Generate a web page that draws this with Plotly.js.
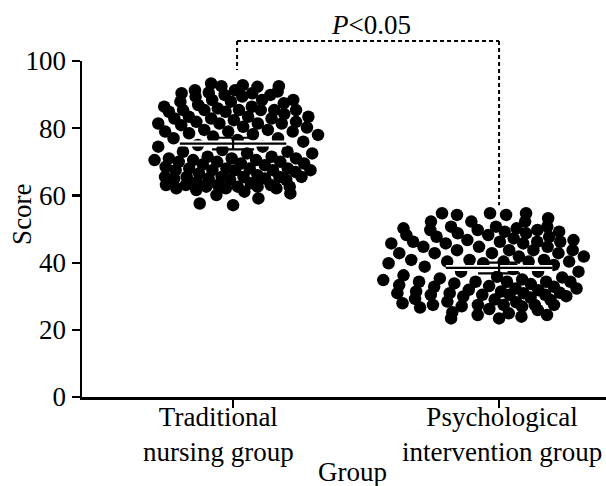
<!DOCTYPE html>
<html>
<head>
<meta charset="utf-8">
<script src="https://cdn.plot.ly/plotly-3.0.1.min.js"></script>
<style>html,body{margin:0;padding:0;background:#fff;}#chart{width:606px;height:486px;}</style>
</head>
<body>
<div id="chart"></div>
<script>
// ---- Data ----
const categories = ['Traditional nursing group', 'Psychological intervention group'];
const tickLabels = ['Traditional<br>nursing group', 'Psychological<br>intervention group'];
const yTicks = [0, 20, 40, 60, 80, 100];
const axisTitleX = 'Group';
const axisTitleY = 'Score';
const significanceText = '<i>P</i>&lt;0.05';

const traditionalScores = [
  93.3, 92.8, 92.3, 92.5, 92.5, 91.3, 91.3, 90.9, 90.4, 90.6, 89.9, 89.4, 89.4, 89.9, 90.4,
  88.4, 87.9, 87.9, 88.4, 88.4, 87.4, 86.4, 85.4, 85.4, 85.9, 86.4, 85.4, 85.4, 84.9, 85.4,
  85.4, 84.9, 83.4, 82.9, 83.4, 82.9, 83.4, 82.9, 82.4, 81.4, 81.4, 81.9, 80.9, 81.9, 81.4,
  81.4, 80.4, 79.0, 79.5, 79.0, 79.5, 78.5, 78.0, 79.0, 77.5, 76.0, 77.0, 76.5, 77.0, 75.0,
  74.5, 73.0, 72.5, 74.5, 73.5, 73.0, 72.5, 70.5, 69.5, 69.5, 70.0, 70.5, 71.0, 71.0, 70.0,
  71.5, 71.5, 70.5, 71.0, 70.0, 67.0, 68.0, 69.0, 67.5, 67.5, 67.5, 68.0, 67.5, 67.5, 68.0,
  68.5, 68.0, 65.0, 65.5, 65.5, 65.0, 65.5, 66.0, 65.0, 65.5, 65.5, 65.5, 64.6, 64.6, 63.1,
  62.1, 62.6, 62.1, 61.1, 60.1, 63.1, 62.6, 62.6, 62.1, 63.6, 63.1, 63.1, 62.6, 60.6, 59.1,
  57.1, 57.6, 84.2, 80.2, 78.2, 69.2, 66.5, 64.0, 86.9, 61.6
];

const psychologicalScores = [
  54.7, 54.7, 54.7, 54.2, 54.2, 53.2, 52.2, 52.2, 52.2, 50.7, 50.2, 50.7, 49.7, 49.2, 48.7,
  49.2, 50.7, 50.2, 49.7, 49.7, 47.7, 48.2, 48.7, 46.7, 47.2, 48.2, 47.7, 46.2, 46.2,
  45.7, 46.2, 46.7, 45.7, 46.2, 44.7, 43.7, 43.7, 44.7, 43.7, 45.7, 43.7, 44.7, 42.8,
  42.8, 42.8, 42.8, 41.8, 40.3, 39.3, 39.8, 39.8, 40.3, 40.8, 41.8, 40.8, 40.8, 40.3, 40.3,
  38.8, 37.3, 35.8, 37.3, 37.3, 35.3, 33.8, 34.8, 34.3, 32.8, 34.3, 32.8, 33.3, 32.3, 34.3,
  32.3, 34.3, 34.3, 30.9, 31.9, 30.4, 30.9, 30.4, 30.9, 29.9, 30.4, 31.4, 30.4, 31.4, 27.4,
  27.4, 27.4, 25.9, 28.4, 27.4, 26.9, 28.9, 27.9, 27.4, 24.4, 23.4, 23.9, 23.4, 24.9, 24.4,
  36.2, 38.1, 29.2, 26.2, 35.0, 31.0, 25.2,
  33.0, 29.6, 26.6, 31.8, 28.2, 35.6, 27.0, 30.0, 33.6, 29.0
];

// ---- Layout constants ----
const W = 606, H = 486;
const M = {l: 82, r: 0, t: 61, b: 89};
const xRange = [-0.568, 1.402];
const yRange = [0, 100];
const FONT = 'Liberation Serif, Times New Roman, serif';
const FS = 27;
const MARKER = 12.5;
// horizontal spread of each cloud (px, left / right of the category centre)
const spreadLeft = [84, 124];
const spreadRight = [86, 86];

const pxPerX = (W - M.l - M.r) / (xRange[1] - xRange[0]);
const pxPerY = (H - M.t - M.b) / (yRange[1] - yRange[0]);

// Deterministic elliptical scatter layout (golden-ratio sequence over value rank)
function cloudOffsets(values, wl, wr) {
  const lo = Math.min(...values), hi = Math.max(...values);
  const mid = (lo + hi) / 2, R = (hi - lo) / 2 + 2.5;
  const order = values.map((v, i) => i).sort((a, b) => values[a] - values[b]);
  const offs = new Array(values.length).fill(0);
  const phi = 0.6180339887;
  order.forEach((idx, k) => {
    const u = (0.5 + k * phi) % 1;
    const t = (values[idx] - mid) / R;
    const shape = Math.sqrt(Math.max(0, 1 - t * t));
    const px = u < 0.5 ? -(1 - 2 * u) * wl * shape : (2 * u - 1) * wr * shape;
    offs[idx] = px / pxPerX;
  });
  return offs;
}

function stats(arr) {
  const n = arr.length;
  const mean = arr.reduce((s, v) => s + v, 0) / n;
  const sd = Math.sqrt(arr.reduce((s, v) => s + (v - mean) * (v - mean), 0) / (n - 1));
  return {mean: mean, ci: 1.96 * sd / Math.sqrt(n)};
}

const groups = [traditionalScores, psychologicalScores];
const traces = [];
const meanX = [], meanY = [], meanLineX = [], meanLineY = [], errs = [];
groups.forEach((vals, gi) => {
  const offs = cloudOffsets(vals, spreadLeft[gi], spreadRight[gi]);
  traces.push({
    type: 'scatter', mode: 'markers', name: categories[gi],
    x: vals.map((v, i) => gi + offs[i]), y: vals,
    marker: {color: '#000', size: MARKER, line: {width: 0}},
    hoverinfo: 'y', cliponaxis: false
  });
  const s = stats(vals);
  meanX.push(gi); meanY.push(s.mean); errs.push(s.ci);
  meanLineX.push(gi - 0.2, gi + 0.2, null);
  meanLineY.push(s.mean, s.mean, null);
});

traces.push({
  type: 'scatter', mode: 'lines', x: meanLineX, y: meanLineY,
  line: {color: '#fff', width: 6}, hoverinfo: 'skip'
});
traces.push({
  type: 'scatter', mode: 'lines', x: meanLineX, y: meanLineY,
  line: {color: '#000', width: 2.2}, hoverinfo: 'skip'
});
traces.push({
  type: 'scatter', mode: 'markers', x: meanX, y: meanY,
  marker: {size: 1, color: 'rgba(0,0,0,0)'},
  error_y: {type: 'data', array: errs, visible: true, color: '#000', thickness: 2.2, width: 21},
  hoverinfo: 'skip'
});

const dashLine = {color: '#000', width: 2, dash: '4px,3px'};
const txt = {family: FONT, size: FS, color: '#000'};
const layout = {
  width: W, height: H,
  margin: {l: M.l, r: M.r, t: M.t, b: M.b, pad: 0},
  paper_bgcolor: '#fff', plot_bgcolor: '#fff',
  showlegend: false,
  font: txt,
  xaxis: {
    range: xRange, tickvals: [0, 1], ticktext: ['', ''],
    ticks: 'outside', ticklen: 8, tickwidth: 2.2, tickcolor: '#000',
    showline: true, linewidth: 2.5, linecolor: '#000',
    showgrid: false, zeroline: false, fixedrange: true,
    tickfont: txt
  },
  yaxis: {
    range: yRange, tickvals: yTicks, ticktext: yTicks.map(String),
    ticks: 'outside', ticklen: 8, tickwidth: 2.2, tickcolor: '#000',
    showline: true, linewidth: 2.5, linecolor: '#000',
    showgrid: false, zeroline: false, fixedrange: true,
    tickfont: txt
  },
  shapes: [
    {type: 'line', xref: 'x', yref: 'paper', x0: 0.015, x1: 1.0, y0: 1.0595, y1: 1.0595, line: dashLine},
    {type: 'line', xref: 'x', yref: 'paper', x0: 0.015, x1: 0.015, y0: 1.0595, y1: 0.973, line: dashLine},
    {type: 'line', xref: 'x', yref: 'paper', x0: 1.0, x1: 1.0, y0: 1.0595, y1: 0.571, line: dashLine}
  ],
  annotations: [
    {xref: 'x', yref: 'paper', x: 0, xshift: -15, y: -0.112, text: tickLabels[0], showarrow: false,
     font: txt, xanchor: 'center', yanchor: 'middle', align: 'center'},
    {xref: 'x', yref: 'paper', x: 1, xshift: 3, y: -0.112, text: tickLabels[1], showarrow: false,
     font: txt, xanchor: 'center', yanchor: 'middle', align: 'center'},
    {xref: 'x', yref: 'paper', x: 0.52, y: 1.107, text: significanceText, showarrow: false,
     font: txt, xanchor: 'center', yanchor: 'middle'},
    {xref: 'paper', yref: 'paper', x: -0.1145, y: 0.542, text: axisTitleY, textangle: -90, showarrow: false,
     font: txt, xanchor: 'center', yanchor: 'middle'},
    {xref: 'paper', yref: 'paper', x: 0.517, y: -0.222, text: axisTitleX, showarrow: false,
     font: txt, xanchor: 'center', yanchor: 'middle'}
  ]
};

Plotly.newPlot('chart', traces, layout, {displayModeBar: false, staticPlot: true});
</script>
</body>
</html>
